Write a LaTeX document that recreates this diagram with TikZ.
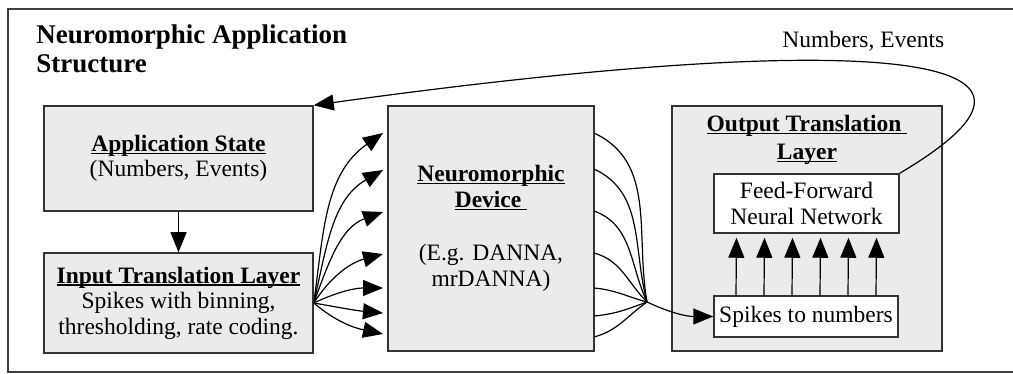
\documentclass[tikz,border=0pt]{standalone}
\usepackage{fontspec}
\setmainfont{Liberation Serif}
\usetikzlibrary{arrows.meta,positioning,calc}

% bold text with a low underline
\newcommand{\ulbf}[1]{\setbox0\hbox{\textbf{#1}}\rlap{\rule[-1.3pt]{\wd0}{0.6pt}}\box0}

\begin{document}
\begin{tikzpicture}[
  x=0.5pt,y=0.5pt,
  box/.style={draw=black!80,line width=0.75pt,fill=black!8,inner sep=0pt,
              align=center,font=\fontsize{11.75}{12.8}\selectfont},
  wbox/.style={box,fill=white},
  txt/.style={inner sep=0pt,align=center,font=\fontsize{11.75}{12.8}\selectfont},
  arr/.style={-{Triangle[length=10pt,width=8pt]},line width=0.6pt}
]
  \useasboundingbox (0,0) rectangle (1013,-374);
  % Frame
  \draw[black!75,line width=1.2pt] (1020,-9) -| (8,-372) -- (1020,-372);
  \node[txt,anchor=north west,align=left,font=\fontsize{13.5}{14.5}\selectfont\bfseries]
    (title) at (36,-24) {Neuromorphic Application\\Structure};
  % Application side
  \node[box,minimum width=134.5pt,minimum height=52.5pt] (app) at (178.5,-158.5)
    {\ulbf{Application State}\\(Numbers, Events)};
  \node[box,minimum width=134.5pt,minimum height=50pt] (inp) at (178.5,-303)
    {\ulbf{Input Translation Layer}\\Spikes with binning,\\thresholding, rate coding.};
  \draw[arr] (app.south) -- (inp.north);
  % Device
  \node[box,minimum width=103pt,minimum height=122.5pt] (dev) at (491,-228.5)
    {\ulbf{Neuromorphic}\\\ulbf{Device\ }\\[14pt](E.g. DANNA,\\mrDANNA)};
  % Output layer
  \node[box,minimum width=135pt,minimum height=122.5pt] (outb) at (807,-228.5) {};
  \node[txt,anchor=north] (outttl) at (807,-115)
    {\ulbf{Output Translation\ }\\[1pt]\ulbf{Layer}};
  \node[wbox,minimum width=92.5pt,minimum height=29.5pt] (ffnn) at (806.5,-203.5)
    {Feed-Forward\\Neural Network};
  \node[wbox,minimum width=92pt,minimum height=20.5pt] (spk) at (806,-316.5)
    {Spikes to numbers};
  \foreach \dx in {-70,-42,-14,14,42,70}
    \draw[arr] ($(spk.north)+(\dx,0)$) -- ($(ffnn.south)+(\dx,-4)$);
  % Spikes into the device
  \foreach \y/\a/\b [count=\i] in {133/82/215,170/77/210,212/70/200,254/57/195,
                                   288/25/180,313/-10/175,334/-40/168}{
    \coordinate (in\i) at (383,-\y);
    \draw[arr] (inp.east) to[out=\a,in=\b] (in\i);
  }
  % Spikes out of the device
  \coordinate (hub) at (647,-302);
  \foreach \y/\a/\b [count=\i] in {133/-25/100,169/-25/105,211/-20/115,253/-15/135,
                                   288/-5/165,316/5/200,337/15/215}{
    \coordinate (out\i) at (594,-\y);
    \draw[line width=0.6pt] (out\i) to[out=\a,in=\b] (hub);
  }
  \draw[arr] (hub) to[out=-25,in=180] (spk.west);
  % Feedback
  \draw[arr] (ffnn.north east) .. controls (1125,-40) and (813,-36) .. (app.north east);
  \node[txt,anchor=base west] (fbl) at (782,-48) {Numbers, Events};
\end{tikzpicture}
\end{document}
